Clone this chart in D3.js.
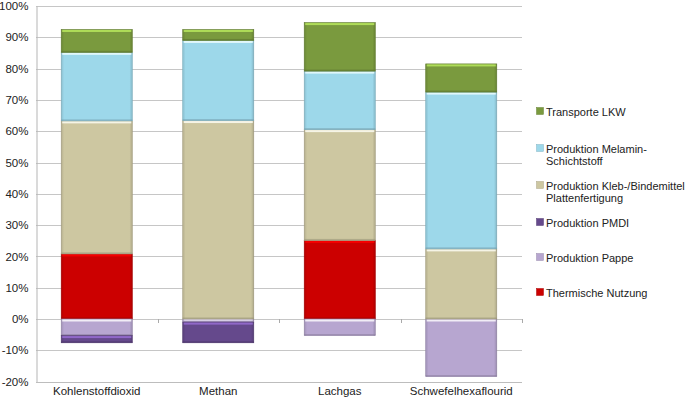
<!DOCTYPE html>
<html><head><meta charset="utf-8">
<script src="https://cdn.jsdelivr.net/npm/d3@7"></script>
<style>body{margin:0;background:#fff;}svg{display:block;font-family:"Liberation Sans",Arial,Helvetica,sans-serif;}</style>
</head><body><svg id="c" width="685" height="397"></svg>
<script>
const categories = ["Kohlenstoffdioxid","Methan","Lachgas","Schwefelhexaflourid"];
const seriesNames = ["Thermische Nutzung","Produktion Pappe","Produktion PMDI","Produktion Kleb-/Bindemittel Plattenfertigung","Produktion Melamin-Schichtstoff","Transporte LKW"];
const thermische = [20.8, 0, 25.1, 0];
const pappe = [-5.3, -1.0, -5.3, -18.4];
const pmdi = [-2.3, -6.6, 0, 0];
const kleb = [42.5, 63.4, 35.4, 22.4];
const melamin = [21.9, 25.6, 18.7, 50.1];
const lkw = [7.3, 3.5, 15.5, 9.0];
const tickValues = [-20,-10,0,10,20,30,40,50,60,70,80,90,100];
const colors = ["#CC0000","#B7A6D0","#65498C","#CDC7A1","#9DD8EA","#7A9A3E"];
const legendOrder = [5,4,3,2,1,0];
const legendLines = {5:["Transporte LKW"],4:["Produktion Melamin-","Schichtstoff"],3:["Produktion Kleb-/Bindemittel","Plattenfertigung"],2:["Produktion PMDI"],1:["Produktion Pappe"],0:["Thermische Nutzung"]};

const seriesVals = [thermische,pappe,pmdi,kleb,melamin,lkw];
const data = categories.map((c,i)=>{const o={cat:c};seriesNames.forEach((s,j)=>o[s]=seriesVals[j][i]);return o;});

const svg = d3.select("#c");
const L=36,R=522,T=6,B=381.6;
const x = d3.scaleBand().domain(categories).range([L,R]).paddingInner(0.415).paddingOuter(0.2075);
const y = d3.scaleLinear().domain([-20,100]).range([B,T]);

// gridlines
svg.append("g").selectAll("line").data(tickValues.filter(v=>v!==-20)).join("line")
  .attr("x1",L).attr("x2",R).attr("y1",d=>Math.round(y(d))+0.5).attr("y2",d=>Math.round(y(d))+0.5)
  .attr("stroke","#C6C6C6").attr("stroke-width",1);

// y axis
const ya = svg.append("g").attr("transform",`translate(${L+0.5},0)`)
  .call(d3.axisLeft(y).tickValues(tickValues).tickFormat(d=>d+"%").tickSize(0).tickPadding(8));
ya.select(".domain").attr("stroke","#B5B5B5");
ya.selectAll("text").attr("font-size",11.5).attr("fill","#222").attr("font-family","Liberation Sans, Arial, sans-serif");

// bottom axis line
svg.append("line").attr("x1",L).attr("x2",R).attr("y1",Math.round(B)+0.5).attr("y2",Math.round(B)+0.5).attr("stroke","#BDBDBD");
// small ticks at category boundaries on zero line
const bounds = categories.slice(1).map(c=>x(c)-x.step()*x.paddingInner()/2);
bounds.push(R);
svg.append("g").selectAll("line").data(bounds).join("line")
  .attr("x1",d=>Math.round(d)+0.5).attr("x2",d=>Math.round(d)+0.5)
  .attr("y1",Math.round(y(0))).attr("y2",Math.round(y(0))+4).attr("stroke","#AAAAAA");

// category labels
svg.append("g").selectAll("text").data(categories).join("text")
  .attr("x",d=>x(d)+x.bandwidth()/2).attr("y",395).attr("text-anchor","middle")
  .attr("font-size",11.5).attr("fill","#222").text(d=>d);

// defs: shading gradient
const defs = svg.append("defs");
const g = defs.append("linearGradient").attr("id","side").attr("x1",0).attr("x2",1).attr("y1",0).attr("y2",0);
g.append("stop").attr("offset","0").attr("stop-color","#000").attr("stop-opacity",0.12);
g.append("stop").attr("offset","0.04").attr("stop-color","#000").attr("stop-opacity",0);
g.append("stop").attr("offset","0.96").attr("stop-color","#000").attr("stop-opacity",0);
g.append("stop").attr("offset","1").attr("stop-color","#000").attr("stop-opacity",0.15);

// stacked bars
const stack = d3.stack().keys(seriesNames).offset(d3.stackOffsetDiverging);
const layers = stack(data);
layers.forEach((layer,li)=>{
  const gg = svg.append("g");
  layer.forEach(seg=>{
    const v0=seg[0],v1=seg[1];
    if(v1-v0===0) return;
    const cat=seg.data.cat;
    const yt=y(Math.max(v0,v1)), yb=y(Math.min(v0,v1));
    const xx=x(cat), w=x.bandwidth(), h=yb-yt;
    const col=d3.color(colors[li]);
    gg.append("rect").attr("x",xx).attr("y",yt).attr("width",w).attr("height",h)
      .attr("fill",colors[li]).attr("stroke",col.darker(0.5)).attr("stroke-width",0.6);
    gg.append("rect").attr("x",xx).attr("y",yt).attr("width",w).attr("height",h).attr("fill","url(#side)");
    gg.append("rect").attr("x",xx+1).attr("y",yt+0.5).attr("width",w-2).attr("height",Math.min(2,h/3))
      .attr("fill",col.brighter(1.2)).attr("opacity",0.8);
    gg.append("rect").attr("x",xx).attr("y",yb-Math.min(1.5,h/4)).attr("width",w).attr("height",Math.min(1.5,h/4))
      .attr("fill",col.darker(0.8)).attr("opacity",0.6);
  });
});

// legend
const legY = {5:112,4:149,3:186,2:223,1:258,0:293};
const lg = svg.append("g");
legendOrder.forEach(i=>{
  const yy=legY[i];
  lg.append("rect").attr("x",536.5).attr("y",yy-4.5).attr("width",7).attr("height",7)
    .attr("fill",colors[i]).attr("stroke",d3.color(colors[i]).darker(0.5)).attr("stroke-width",0.5);
  legendLines[i].forEach((t,k)=>{
    lg.append("text").attr("x",546).attr("y",yy+4+k*12).attr("font-size",11).attr("fill","#222").text(t);
  });
});
</script></body></html>
